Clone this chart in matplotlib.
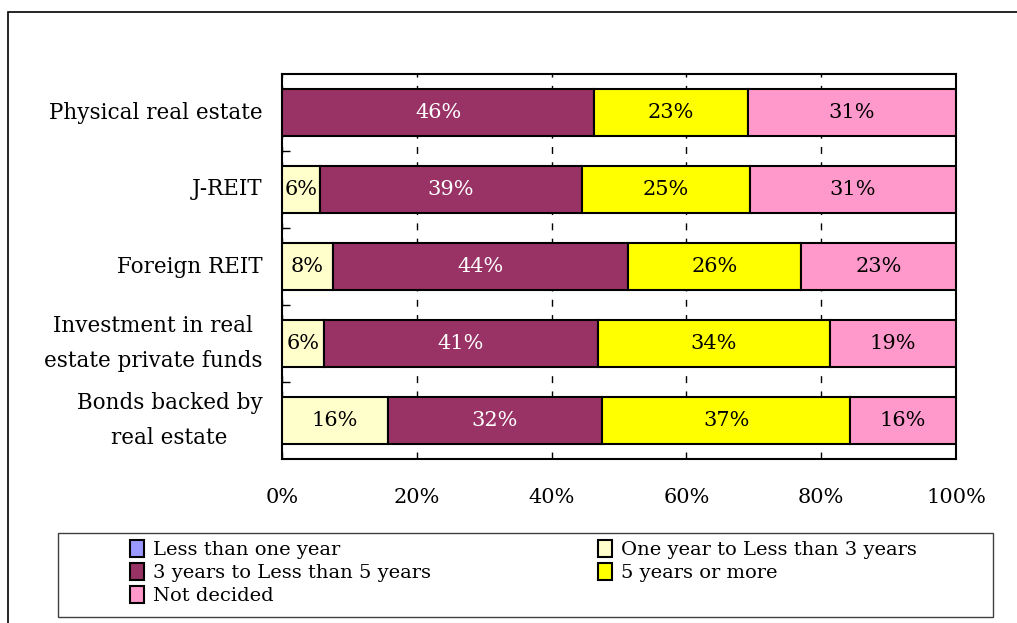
import numpy as np
import matplotlib
matplotlib.use("Agg")
import matplotlib.pyplot as plt
from matplotlib.patches import Rectangle

plt.rcParams['font.family'] = ['DejaVu Serif']

# категории (сверху вниз) и доли по срокам, %
categories = ["Physical real estate", "J-REIT", "Foreign REIT",
              "Investment in real\nestate private funds",
              "Bonds backed by\nreal estate"]
series_names = ["Less than one year", "One year to Less than 3 years",
                "3 years to Less than 5 years", "5 years or more", "Not decided"]
less_1y = [0.0, 0.0, 0.0, 0.0, 0.0]
y1_to_3 = [0.0, 5.6, 7.6, 6.2, 15.7]
y3_to_5 = [46.3, 38.9, 43.8, 40.7, 31.8]
y5_more = [22.8, 24.9, 25.6, 34.4, 36.8]
undecided = [30.9, 30.6, 23.0, 18.7, 15.7]
x_ticks = [0, 20, 40, 60, 80, 100]

series = [less_1y, y1_to_3, y3_to_5, y5_more, undecided]
colors = ['#9999FF', '#FFFFCC', '#993366', '#FFFF00', '#FF99CC']
text_colors = ['black', 'black', 'white', 'black', 'black']

fig = plt.figure(figsize=(10.17, 6.23), dpi=100)
ax = fig.add_axes([282 / 1017, 1 - 459 / 623, 674 / 1017, 385 / 623])

y = np.arange(len(categories))
left = np.zeros(len(categories))
handles = []
for vals, c, tc, name in zip(series, colors, text_colors, series_names):
    vals = np.array(vals)
    b = ax.barh(y, vals, left=left, height=0.62, color=c, edgecolor='black',
                linewidth=1.5, label=name, zorder=3)
    handles.append(b)
    for yi, l, v in zip(y, left, vals):
        if v > 0:
            ax.text(l + v / 2, yi, f"{v:.0f}%", ha='center', va='center',
                    color=tc, fontsize=15, zorder=4)
    left += vals

ax.set_xlim(0, 100)
ax.set_ylim(len(categories) - 0.5, -0.5)
ax.set_xticks(x_ticks)
ax.set_xticklabels([f"{t}%" for t in x_ticks], fontsize=15)
ax.tick_params(axis='x', direction='in', length=0, pad=21)

# подписи категорий слева
ax.set_yticks([])
for yi, cat in zip(y, categories):
    ax.annotate(cat, xy=(0, yi), xycoords=('axes fraction', 'data'),
                xytext=(-14, 0), textcoords='offset points',
                ha='right', va='center', multialignment='center',
                linespacing=1.8, fontsize=15.5)
ax.set_yticks(np.arange(0.5, len(categories) - 1, 1), minor=True)
ax.tick_params(axis='y', which='minor', direction='in', length=6, width=1)
ax.xaxis.grid(True, color='black', linewidth=1, linestyle=(0, (5, 6)), zorder=0)
for s in ax.spines.values():
    s.set_linewidth(1.5)

# рамка легенды
fig.add_artist(Rectangle((58 / 1017, 1 - 617 / 623), 935 / 1017, 84 / 623,
                         transform=fig.transFigure, fill=False,
                         edgecolor='#404040', linewidth=1))

# легенда: порядок по строкам как в исходной таблице
order = [0, 2, 4, 1, 3]
leg = fig.legend([handles[i] for i in order], [series_names[i] for i in order],
                 ncol=2, loc='upper left',
                 bbox_to_anchor=(130 / 1017, 1 - 540 / 623),
                 fontsize=14, frameon=False,
                 handlelength=0.72, handleheight=0.95, handletextpad=0.46,
                 labelspacing=0.2, borderpad=0, borderaxespad=0,
                 columnspacing=8.6)

# внешняя рамка
fig.add_artist(Rectangle((8 / 1017, -0.1), 1.2, 1 - 12 / 623 + 0.1,
                         transform=fig.transFigure, fill=False,
                         edgecolor='black', linewidth=1.2))

fig.savefig("out.png", dpi=100)
